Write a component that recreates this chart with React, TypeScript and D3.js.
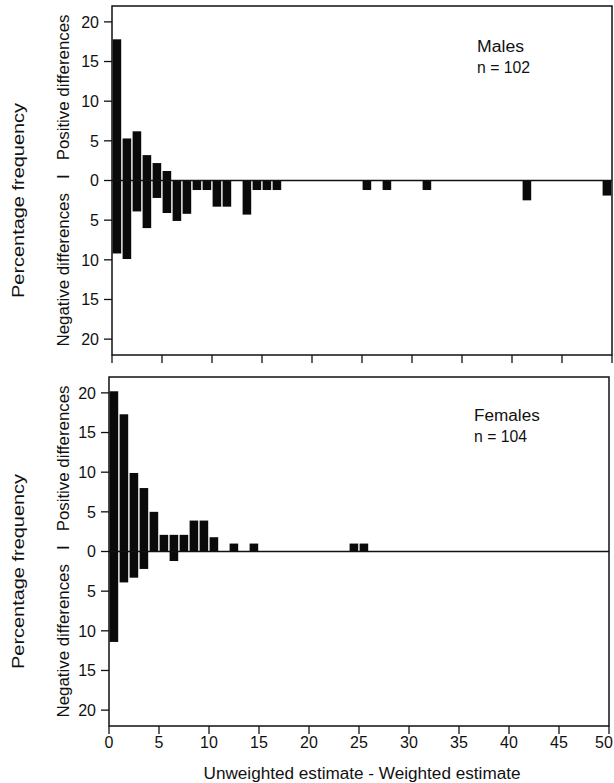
import React from 'react';
import * as d3 from 'd3';

// bins are 1-unit wide classes of (unweighted - weighted) estimate
const maleBins = [0, 1, 2, 3, 4, 5, 6, 7, 8, 9, 10, 11, 13, 14, 15, 16, 25, 27, 31, 41, 49];
const malePositive = [17.8, 5.3, 6.2, 3.2, 2.2, 1.2, 0, 0, 0, 0, 0, 0, 0, 0, 0, 0, 0, 0, 0, 0, 0];
const maleNegative = [9.2, 9.9, 3.9, 6.0, 2.2, 4.1, 5.1, 4.2, 1.2, 1.2, 3.3, 3.3, 4.3, 1.2, 1.2, 1.2, 1.2, 1.2, 1.2, 2.5, 1.9];

const femaleBins = [0, 1, 2, 3, 4, 5, 6, 7, 8, 9, 10, 12, 14, 24, 25];
const femalePositive = [20.2, 17.3, 9.9, 8.0, 5.0, 2.1, 2.1, 2.1, 3.9, 3.9, 1.8, 1.0, 1.0, 1.0, 1.0];
const femaleNegative = [11.4, 3.9, 3.3, 2.2, 0, 0, 1.2, 0, 0, 0, 0, 0, 0, 0, 0];

const xDomain = [0, 50];
const yDomain = [-22, 22];

const FONT = "'Liberation Sans', Arial, Helvetica, sans-serif";
const INK = '#111';
const WIDTH = 614;

interface PanelProps {
  title: string;
  nLabel: string;
  bins: number[];
  positive: number[];
  negative: number[];
  xRange: [number, number];
  yRange: [number, number];
  labelPos: [number, number];
  showXLabels: boolean;
}

const Panel: React.FC<PanelProps> = ({ title, nLabel, bins, positive, negative, xRange, yRange, labelPos, showXLabels }) => {
  const x = d3.scaleLinear().domain(xDomain).range(xRange);
  const y = d3.scaleLinear().domain(yDomain).range([yRange[1], yRange[0]]);
  const [x0, x1] = xRange;
  const [top, bottom] = yRange;
  const zero = y(0);

  return (
    <g>
      {/* bars */}
      {bins.map((b, i) => {
        const left = x(b) + 0.6;
        const w = x(b + 1) - x(b) - 1.4;
        return (
          <g key={b}>
            {positive[i] > 0 && (
              <rect x={left} y={y(positive[i])} width={w} height={zero - y(positive[i])} fill="#0a0a0a" />
            )}
            {negative[i] > 0 && (
              <rect x={left} y={zero} width={w} height={y(-negative[i]) - zero} fill="#0a0a0a" />
            )}
          </g>
        );
      })}

      {/* zero line */}
      <line x1={x0} x2={x1} y1={zero} y2={zero} stroke={INK} strokeWidth={1.3} />

      {/* frame */}
      <rect x={x0} y={top} width={x1 - x0} height={bottom - top} fill="none" stroke={INK} strokeWidth={1.5} />

      {/* y axis */}
      {y.ticks(10).map(t => (
        <g key={`y${t}`}>
          <line x1={x0 - 8} x2={x0} y1={y(t)} y2={y(t)} stroke={INK} strokeWidth={1.3} />
          <text x={x0 - 13} y={y(t)} dy="0.36em" textAnchor="end" fontSize={16} fontFamily={FONT} fill={INK}>
            {Math.abs(t)}
          </text>
        </g>
      ))}

      {/* x axis */}
      {x.ticks(10).map(t => {
        // keep the last label inside the page
        const lx = Math.min(x(t), WIDTH - 10);
        return (
          <g key={`x${t}`}>
            <line x1={x(t)} x2={x(t)} y1={bottom} y2={bottom + 8} stroke={INK} strokeWidth={1.3} />
            {showXLabels && (
              <text x={lx} y={bottom + 22} textAnchor="middle" fontSize={16} fontFamily={FONT} fill={INK}>
                {t}
              </text>
            )}
          </g>
        );
      })}

      {/* axis titles */}
      <text
        transform={`translate(18, ${zero + 20}) rotate(-90)`}
        textAnchor="middle" dy="0.35em" fontSize={16} fontFamily={FONT} fill={INK}
        textLength={195} lengthAdjust="spacingAndGlyphs"
      >
        Percentage frequency
      </text>
      <text
        transform={`translate(63, ${zero}) rotate(-90)`}
        textAnchor="middle" dy="0.35em" fontSize={16} fontFamily={FONT} fill={INK}
        textLength={332} lengthAdjust="spacingAndGlyphs"
        style={{ whiteSpace: 'pre' }}
      >
        {'Negative differences   I   Positive differences'}
      </text>

      {/* panel label */}
      <text x={labelPos[0]} y={labelPos[1]} fontSize={16} fontFamily={FONT} fill={INK}
        textLength={title.length * 9.4} lengthAdjust="spacingAndGlyphs">
        {title}
      </text>
      <text x={labelPos[0]} y={labelPos[1] + 21} fontSize={16} fontFamily={FONT} fill={INK}
        textLength={53} lengthAdjust="spacingAndGlyphs">
        {nLabel}
      </text>
    </g>
  );
};

const App: React.FC = () => {
  return (
    <div style={{ position: 'absolute', left: 0, top: 0, width: 614, height: 783, background: '#fff' }}>
      <svg width={614} height={783} viewBox="0 0 614 783" style={{ display: 'block' }}>
        <rect width={614} height={783} fill="#fff" />
        <Panel
          title="Males"
          nLabel="n = 102"
          bins={maleBins}
          positive={malePositive}
          negative={maleNegative}
          xRange={[112, 612]}
          yRange={[6, 355]}
          labelPos={[477, 52]}
          showXLabels={false}
        />
        <Panel
          title="Females"
          nLabel="n = 104"
          bins={femaleBins}
          positive={femalePositive}
          negative={femaleNegative}
          xRange={[109, 609]}
          yRange={[377, 726]}
          labelPos={[474, 421]}
          showXLabels={true}
        />
        <text x={362} y={779} textAnchor="middle" fontSize={16} fontFamily={FONT} fill={INK}
          textLength={317} lengthAdjust="spacingAndGlyphs">
          Unweighted estimate - Weighted estimate
        </text>
      </svg>
    </div>
  );
};

export default App;
